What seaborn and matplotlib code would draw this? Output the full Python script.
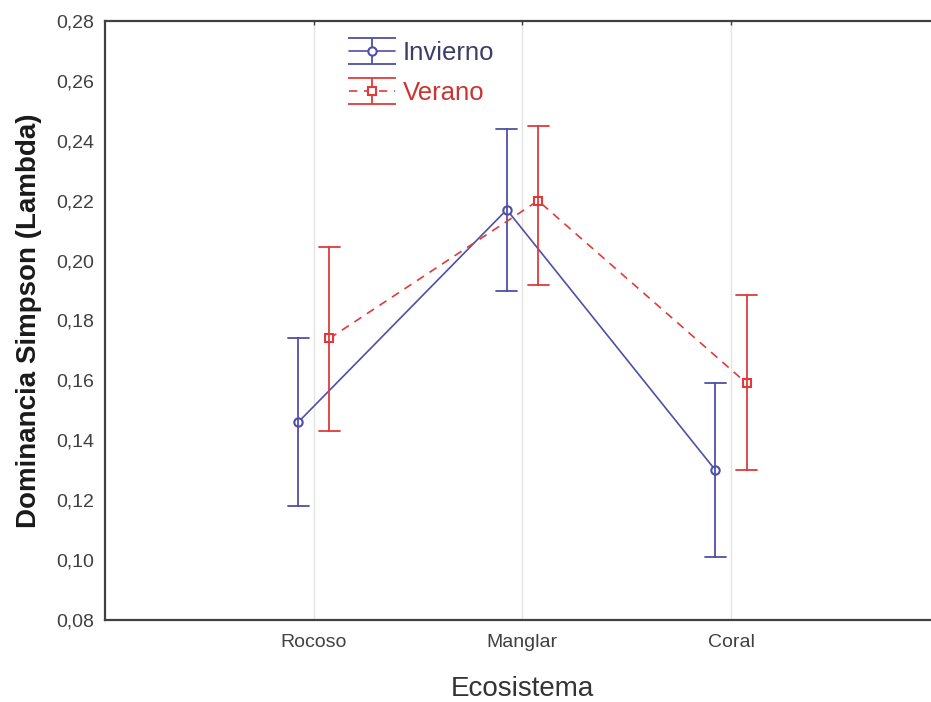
import numpy as np
import pandas as pd
import matplotlib
matplotlib.use("Agg")
import matplotlib.pyplot as plt
import seaborn as sns
from matplotlib.container import ErrorbarContainer
from matplotlib.lines import Line2D
from matplotlib.collections import LineCollection
from matplotlib.ticker import FuncFormatter

ecosistemas = ["Rocoso", "Manglar", "Coral"]
temporadas = ["Invierno", "Verano"]

# media y limites del intervalo
invierno_media = [0.146, 0.217, 0.130]
invierno_inf = [0.118, 0.190, 0.101]
invierno_sup = [0.174, 0.244, 0.159]

verano_media = [0.174, 0.220, 0.159]
verano_inf = [0.143, 0.192, 0.130]
verano_sup = [0.2045, 0.245, 0.1885]

colores = {"Invierno": "#4f4fa8", "Verano": "#e23a3a"}

# tabla larga: (inferior, media, superior) por grupo -> mediana = media, rango = intervalo
filas = []
for temp, media, inf, sup in [("Invierno", invierno_media, invierno_inf, invierno_sup),
                              ("Verano", verano_media, verano_inf, verano_sup)]:
    for eco, m, lo, hi in zip(ecosistemas, media, inf, sup):
        for v in (lo, m, hi):
            filas.append({"Ecosistema": eco, "Temporada": temp, "Lambda": v})
df = pd.DataFrame(filas)

sns.set_style("white")
plt.rcParams["font.family"] = ["Liberation Sans", "DejaVu Sans"]

fig = plt.figure(figsize=(9.31, 7.02), dpi=100)
ax = fig.add_axes([0.1128, 0.1168, 0.8967, 0.8533])

sns.pointplot(data=df, x="Ecosistema", y="Lambda", hue="Temporada",
              order=ecosistemas, hue_order=temporadas,
              estimator="median", errorbar=lambda v: (v.min(), v.max()),
              palette=colores, markers=["o", "s"], linestyles=["-", "--"],
              dodge=0.15, capsize=0.1, linewidth=1.2, markersize=6,
              markeredgewidth=1.5, err_kws={"linewidth": 1.3},
              legend=False, ax=ax)

for ln in ax.lines:
    ln.set_markerfacecolor("white")
    if ln.get_linestyle() == "--":
        ln.set_dashes([5, 4])

ax.set_xlim(-1, 3)
ax.set_ylim(0.08, 0.28)
ax.set_yticks(np.arange(0.08, 0.2801, 0.02))
ax.yaxis.set_major_formatter(FuncFormatter(lambda v, p: f"{v:.2f}".replace(".", ",")))

ax.xaxis.grid(True, color="#e4e4e4", lw=1)
ax.yaxis.grid(False)
for s in ["left", "bottom", "top"]:
    ax.spines[s].set_color("#404040")
    ax.spines[s].set_linewidth(1.6)

ax.tick_params(direction="in", length=3, width=1, colors="#404040",
               labelsize=14, labelcolor="#404040")
ax.tick_params(axis="x", top=True, pad=10)
ax.tick_params(axis="y", pad=8)

ax.set_xlabel("Ecosistema", fontsize=20, color="#333333", labelpad=18)
ax.set_ylabel("Dominancia Simpson (Lambda)", fontsize=20, fontweight="bold",
              color="#1a1a1a", labelpad=10)


def proxy(color, marker, ls):
    linea = Line2D([], [], color=color, marker=marker, linestyle=ls, lw=1.2,
                   markersize=6, mfc="white", mec=color, mew=1.5)
    if ls == "--":
        linea.set_dashes([5, 4])
    tapa = Line2D([], [], color=color, marker="_", markersize=34, mew=1.3,
                  linestyle="none")
    barras = LineCollection([], colors=color, linewidths=1.3)
    return ErrorbarContainer((linea, (tapa, tapa), (barras,)),
                             has_xerr=False, has_yerr=True)


handles = [proxy(colores["Invierno"], "o", "-"), proxy(colores["Verano"], "s", "--")]
leg = ax.legend(handles, temporadas, loc="upper left",
                bbox_to_anchor=(326 / 931, 1 - 18 / 702),
                bbox_transform=fig.transFigure, frameon=False, fontsize=18.5,
                handlelength=1.8, handletextpad=0.3, labelspacing=0.62,
                borderpad=0.4)
for txt, c in zip(leg.get_texts(), ["#3d3d66", "#cc3333"]):
    txt.set_color(c)

plt.savefig("out.png", dpi=100)
